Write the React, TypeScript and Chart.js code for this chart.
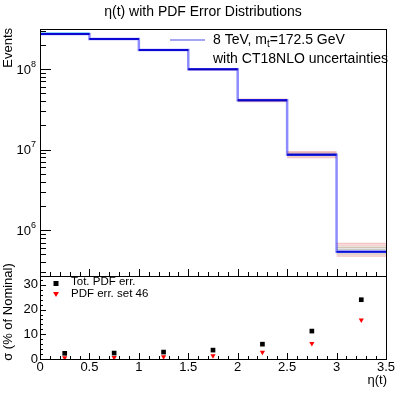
import React, { useEffect, useRef } from "react";
import { Chart, registerables } from "chart.js";
Chart.register(...registerables);

// ---- data ----
const binEdges = [0, 0.5, 1, 1.5, 2, 2.5, 3, 3.5];
const binCenters = [0.25, 0.75, 1.25, 1.75, 2.25, 2.75, 3.25];
const nominalEvents = [2.72e8, 2.36e8, 1.72e8, 9.9e7, 4.09e7, 8.6e6, 5.37e5];
const pdfVarCyan = [2.8e8, 2.36e8, 1.72e8, 9.9e7, 4.09e7, 8.6e6, 5.37e5];
const pdfVar1 = [2.74e8, 2.38e8, 1.73e8, 1.0e8, 4.2e7, 9.4e6, 6.83e5];
const pdfVar2 = [2.73e8, 2.37e8, 1.725e8, 9.95e7, 4.15e7, 9.1e6, 6.5e5];
const pdfVar3 = [2.72e8, 2.36e8, 1.72e8, 9.9e7, 4.12e7, 8.9e6, 6.1e5];
const pdfVar4 = [2.72e8, 2.36e8, 1.72e8, 9.9e7, 4.1e7, 8.75e6, 5.8e5];
const pdfVar5 = [2.71e8, 2.35e8, 1.715e8, 9.85e7, 4.05e7, 8.4e6, 5.05e5];
const pdfVar6 = [2.7e8, 2.34e8, 1.71e8, 9.8e7, 3.95e7, 7.95e6, 4.75e5];
const totPdfErr = [2.3, 2.4, 2.8, 3.6, 6.0, 11.3, 24.0];
const pdfErrSet46 = [0.5, 0.6, 0.9, 1.3, 2.7, 6.3, 15.8];
const xTickLabels = ["0", "0.5", "1", "1.5", "2", "2.5", "3", "3.5"];
const xTickValues = [0, 0.5, 1, 1.5, 2, 2.5, 3, 3.5];
const topYTickExps = [6, 7, 8];
const bottomYTicks = [0, 10, 20, 30];

const FONT = '"Liberation Sans", Arial, Helvetica, sans-serif';

const stepPoints = (vals: number[]) => [
  ...vals.map((v, i) => ({ x: binEdges[i], y: v })),
  { x: binEdges[vals.length], y: vals[vals.length - 1] },
];
const segPoints = (vals: number[]) =>
  vals.flatMap((v, i) => [
    { x: binEdges[i], y: v },
    { x: binEdges[i + 1], y: v },
    { x: binEdges[i + 1], y: null as any },
  ]);

function hline(ctx: CanvasRenderingContext2D, x1: number, x2: number, y: number) {
  const yy = Math.round(y) + 0.5;
  ctx.beginPath();
  ctx.moveTo(x1, yy);
  ctx.lineTo(x2, yy);
  ctx.stroke();
}
function vline(ctx: CanvasRenderingContext2D, x: number, y1: number, y2: number) {
  const xx = Math.round(x) + 0.5;
  ctx.beginPath();
  ctx.moveTo(xx, y1);
  ctx.lineTo(xx, y2);
  ctx.stroke();
}

const topPlugin = {
  id: "topDecor",
  afterDraw(chart: any) {
    const { ctx, chartArea: a, scales } = chart;
    const xs = scales.x;
    const ys = scales.y;
    ctx.save();
    ctx.strokeStyle = "#000";
    ctx.lineWidth = 1;
    hline(ctx, a.left, a.right + 1, a.top);
    hline(ctx, a.left, a.right + 1, a.bottom);
    vline(ctx, a.left, a.top, a.bottom + 1);
    vline(ctx, a.right, a.top, a.bottom + 1);
    for (let i = 0; i <= 35; i++) {
      const px = xs.getPixelForValue(i / 10);
      const len = i % 5 === 0 ? 7 : 4;
      vline(ctx, px, a.bottom, a.bottom - len);
    }
    for (let e = 5; e <= 8; e++) {
      for (let k = 1; k <= 9; k++) {
        const v = k * Math.pow(10, e);
        if (v < ys.min || v > ys.max) continue;
        const py = ys.getPixelForValue(v);
        hline(ctx, a.left, a.left + (k === 1 ? 11 : 6), py);
      }
    }
    ctx.fillStyle = "#000";
    ctx.textBaseline = "middle";
    topYTickExps.forEach((e) => {
      const py = ys.getPixelForValue(Math.pow(10, e));
      ctx.font = `9px ${FONT}`;
      const es = String(e);
      const ew = ctx.measureText(es).width;
      ctx.textAlign = "left";
      ctx.fillText(es, 36 - ew, py - 5);
      ctx.font = `13px ${FONT}`;
      ctx.textAlign = "right";
      ctx.fillText("10", 36 - ew, py + 1);
    });
    ctx.font = `14px ${FONT}`;
    ctx.textAlign = "center";
    ctx.fillText("η(t) with PDF Error Distributions", 203, 12);
    ctx.save();
    ctx.translate(8, 28);
    ctx.rotate(-Math.PI / 2);
    ctx.textAlign = "right";
    ctx.font = `13px ${FONT}`;
    ctx.fillText("Events", 0, 0);
    ctx.restore();
    ctx.strokeStyle = "rgba(90,90,230,0.55)";
    ctx.lineWidth = 2;
    ctx.beginPath();
    ctx.moveTo(170, 40);
    ctx.lineTo(205, 40);
    ctx.stroke();
    ctx.textAlign = "left";
    ctx.font = `14px ${FONT}`;
    const t1 = "8 TeV, m";
    ctx.fillText(t1, 213, 40);
    const w1 = ctx.measureText(t1).width;
    ctx.font = `10px ${FONT}`;
    ctx.fillText("t", 213 + w1, 44);
    const w2 = ctx.measureText("t").width;
    ctx.font = `14px ${FONT}`;
    ctx.fillText("=172.5 GeV", 213 + w1 + w2, 40);
    ctx.fillText("with CT18NLO uncertainties", 213, 59);
    ctx.restore();
  },
};

const bottomPlugin = {
  id: "bottomDecor",
  afterDraw(chart: any) {
    const { ctx, chartArea: a, scales } = chart;
    const xs = scales.x;
    const ys = scales.y;
    ctx.save();
    ctx.strokeStyle = "#000";
    ctx.lineWidth = 1;
    hline(ctx, a.left, a.right + 1, a.top);
    hline(ctx, a.left, a.right + 1, a.bottom);
    vline(ctx, a.left, a.top, a.bottom + 1);
    vline(ctx, a.right, a.top, a.bottom + 1);
    for (let i = 0; i <= 35; i++) {
      const px = xs.getPixelForValue(i / 10);
      const len = i % 5 === 0 ? 6 : 3;
      vline(ctx, px, a.bottom, a.bottom - len);
    }
    for (let v = 0; v <= 32; v += 2) {
      const py = ys.getPixelForValue(v);
      hline(ctx, a.left, a.left + (v % 10 === 0 ? 6 : 3), py);
    }
    ctx.fillStyle = "#000";
    ctx.font = `13px ${FONT}`;
    ctx.textBaseline = "middle";
    ctx.textAlign = "right";
    bottomYTicks.forEach((v) => {
      ctx.fillText(String(v), 38, ys.getPixelForValue(v));
    });
    ctx.textAlign = "center";
    xTickValues.forEach((v, i) => {
      ctx.fillText(xTickLabels[i], xs.getPixelForValue(v), a.bottom + 8);
    });
    ctx.textAlign = "right";
    ctx.fillText("η(t)", 387, 380);
    ctx.save();
    ctx.translate(8, 312);
    ctx.rotate(-Math.PI / 2);
    ctx.textAlign = "center";
    ctx.fillText("σ (% of Nominal)", 0, 0);
    ctx.restore();
    ctx.fillRect(53.5, 281, 5, 5);
    ctx.fillStyle = "#ff0000";
    ctx.beginPath();
    ctx.moveTo(53, 292);
    ctx.lineTo(59, 292);
    ctx.lineTo(56, 297);
    ctx.closePath();
    ctx.fill();
    ctx.fillStyle = "#000";
    ctx.textAlign = "left";
    ctx.font = `11.5px ${FONT}`;
    ctx.fillText("Tot. PDF err.", 71, 282);
    ctx.fillText("PDF err. set 46", 71, 293.5);
    ctx.restore();
  },
};

export default function App() {
  const topRef = useRef<HTMLCanvasElement>(null);
  const botRef = useRef<HTMLCanvasElement>(null);

  useEffect(() => {
    const varColors = [
      "rgba(220,90,90,0.35)",
      "rgba(220,110,110,0.3)",
      "rgba(150,110,70,0.4)",
      "rgba(120,120,110,0.4)",
      "rgba(160,100,80,0.4)",
      "rgba(220,90,90,0.35)",
    ];
    const vars = [pdfVar1, pdfVar2, pdfVar3, pdfVar4, pdfVar5, pdfVar6];
    const datasets: any[] = [
      {
        data: segPoints(nominalEvents),
        borderColor: "rgba(0,0,60,0.35)",
        borderWidth: 1,
        spanGaps: false,
        order: 0,
      },
      {
        data: stepPoints(nominalEvents),
        stepped: "before",
        borderColor: "rgba(0,0,255,0.45)",
        borderWidth: 2.5,
        order: 1,
      },
      {
        data: segPoints(nominalEvents),
        borderColor: "rgba(0,0,255,0.85)",
        borderWidth: 2,
        spanGaps: false,
        order: 2,
      },
      ...vars.map((v, i) => ({
        data: segPoints(v),
        borderColor: varColors[i],
        borderWidth: 1.5,
        spanGaps: false,
        order: 3 + i,
      })),
      {
        data: segPoints(pdfVarCyan),
        borderColor: "rgba(0,230,230,0.5)",
        borderWidth: 1.5,
        spanGaps: false,
        order: 20,
      },
    ];
    const top = new Chart(topRef.current!, {
      type: "line",
      data: { datasets },
      options: {
        animation: false,
        responsive: false,
        devicePixelRatio: 1,
        events: [],
        layout: { padding: { left: 40, right: 21, top: 29, bottom: 119 } },
        elements: { point: { radius: 0 }, line: { tension: 0 } },
        scales: {
          x: { type: "linear", min: 0, max: 3.5, display: false },
          y: { type: "logarithmic", min: 2.69e5, max: 3.14e8, display: false },
        },
        plugins: { legend: { display: false }, tooltip: { enabled: false } },
      },
      plugins: [topPlugin],
    } as any);

    const bot = new Chart(botRef.current!, {
      type: "scatter",
      data: {
        datasets: [
          {
            data: binCenters.map((x, i) => ({ x, y: totPdfErr[i] })),
            pointStyle: "rect",
            pointRadius: 3.3,
            backgroundColor: "#000",
            borderWidth: 0,
          },
          {
            data: binCenters.map((x, i) => ({ x, y: pdfErrSet46[i] })),
            pointStyle: "triangle",
            pointRotation: 180,
            pointRadius: 3,
            backgroundColor: "#ff0000",
            borderWidth: 0,
          },
        ],
      },
      options: {
        animation: false,
        responsive: false,
        devicePixelRatio: 1,
        events: [],
        layout: { padding: { left: 40, right: 21, top: 276, bottom: 36 } },
        scales: {
          x: { type: "linear", min: 0, max: 3.5, display: false },
          y: { type: "linear", min: 0, max: 33.6, display: false },
        },
        plugins: { legend: { display: false }, tooltip: { enabled: false } },
      },
      plugins: [bottomPlugin],
    } as any);
    return () => {
      top.destroy();
      bot.destroy();
    };
  }, []);

  const cs: React.CSSProperties = { position: "absolute", left: 0, top: 0, width: 407, height: 395 };
  return (
    <div style={{ position: "fixed", left: 0, top: 0, width: 407, height: 395, background: "#fff" }}>
      <canvas ref={topRef} width={407} height={395} style={cs} />
      <canvas ref={botRef} width={407} height={395} style={cs} />
    </div>
  );
}
